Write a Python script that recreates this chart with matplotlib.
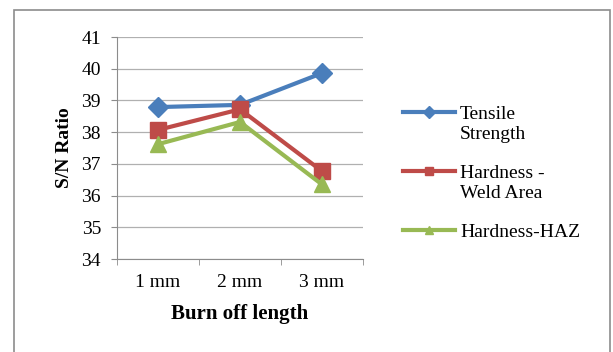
import matplotlib.pyplot as plt
from matplotlib.patches import Rectangle
from matplotlib.lines import Line2D
import numpy as np

categories = ["1 mm", "2 mm", "3 mm"]
tensile = [38.79, 38.86, 39.86]
hardness_weld = [38.07, 38.72, 36.77]
hardness_haz = [37.62, 38.32, 36.35]
labels = ["Tensile\nStrength", "Hardness -\nWeld Area", "Hardness-HAZ"]
colors = ["#4a7ebb", "#be4b48", "#98b954"]
markers = ["D", "s", "^"]

plt.rcParams['font.family'] = ['Liberation Serif', 'DejaVu Serif']

W, H = 613, 352
fig = plt.figure(figsize=(W / 100, H / 100), dpi=100, facecolor="white")
# outer chart border
fig.patches.append(Rectangle((14 / W, -0.1), 596 / W, 1.1 - 10 / H,
                             transform=fig.transFigure, fill=False,
                             edgecolor="#8c8c8c", linewidth=1.2))

ax = fig.add_axes([117 / W, 1 - 259 / H, 246 / W, 222 / H])
x = np.arange(len(categories))

series = [tensile, hardness_weld, hardness_haz]
sizes = [10, 11, 12]
for vals, c, m, s in zip(series, colors, markers, sizes):
    ax.plot(x, vals, color=c, lw=3, marker=m, ms=s, zorder=3)

ax.set_xlim(-0.5, 2.5)
ax.set_ylim(34, 41)
ax.set_yticks(np.arange(34, 42, 1))
ax.set_xticks(x)
ax.set_xticklabels(categories)
ax.set_xticks([-0.5, 0.5, 1.5, 2.5], minor=True)
ax.tick_params(axis="x", which="major", length=0, pad=11, labelsize=14)
ax.tick_params(axis="x", which="minor", length=4, color="#8c8c8c")
ax.tick_params(axis="y", length=4.5, color="#8c8c8c", labelsize=14, pad=7)
ax.grid(axis="y", color="#b0b0b0", linewidth=0.9)
ax.set_axisbelow(True)
for s in ["top", "right"]:
    ax.spines[s].set_visible(False)
for s in ["left", "bottom"]:
    ax.spines[s].set_color("#8c8c8c")

ax.set_ylabel("S/N Ratio", fontweight="bold", fontsize=14, labelpad=6)
ax.set_xlabel("Burn off length", fontweight="bold", fontsize=15, labelpad=9)

# legend drawn Excel-style: handle aligned with the first line of text
leg_y = [112, 171, 230]
for lab, c, m, y in zip(labels, colors, markers, leg_y):
    yf = 1 - y / H
    fig.lines.append(Line2D([403 / W, 455 / W], [yf, yf], color=c, lw=3,
                            transform=fig.transFigure))
    fig.lines.append(Line2D([429 / W], [yf], color=c, marker=m, ms=6,
                            transform=fig.transFigure))
    fig.text(460 / W, yf + 6 / H, lab, fontsize=14, va="top", ha="left",
             linespacing=1.2, transform=fig.transFigure)

fig.savefig("out.png", dpi=100, facecolor="white")
